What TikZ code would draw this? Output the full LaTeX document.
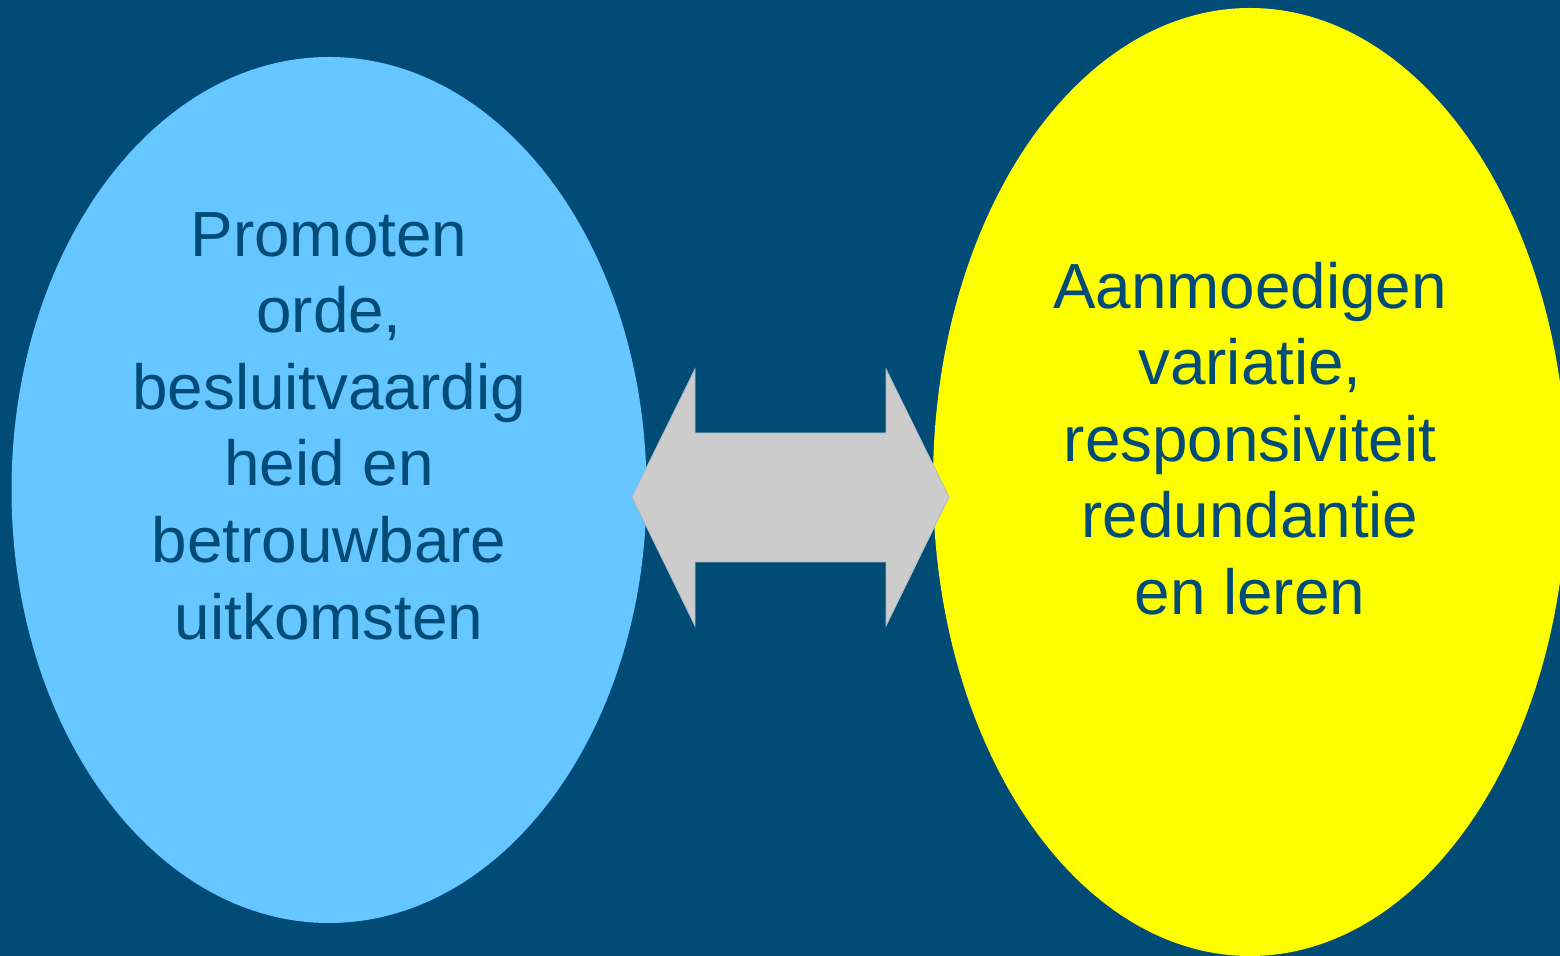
\documentclass[tikz,border=0pt]{standalone}
\usepackage{fontspec}
\setmainfont{Liberation Sans}
\definecolor{bgblue}{RGB}{0,76,119}
\definecolor{lightblue}{RGB}{102,198,255}
\definecolor{ovalyellow}{RGB}{255,255,0}
\definecolor{arrowgray}{RGB}{204,204,204}
\tikzset{every picture/.style={line width=0.75pt}}
\tikzset{ovaltext/.style={align=center, inner sep=0pt, text=bgblue, font=\fontsize{31.9}{38.3}\selectfont}}

\begin{document}
\begin{tikzpicture}[x=0.5pt,y=0.5pt,yscale=-1,xscale=1]
%set diagram to 1560 x 956
\useasboundingbox (0,0) rectangle (1560,956);
\fill [bgblue] (0,0) rectangle (1560,956);
\clip (0,0) rectangle (1560,956);

%Shape: Ellipse [left]
\fill [lightblue] (329,490) ellipse [x radius=317.5, y radius=433];
%Shape: Ellipse [right]
\fill [ovalyellow] (1250,482) ellipse [x radius=317, y radius=474];

%Shape: Double Arrow
\draw [draw=arrowgray!85!bgblue, line width=0.4pt, fill=arrowgray] (632,497) -- (695,369) -- (695,433) -- (886,433) -- (886,369) -- (949,497) -- (886,626) -- (886,562) -- (695,562) -- (695,626) -- cycle ;

% Text Node
\node [ovaltext] (promoten) at (329,426) {Promoten\\orde,\\besluitvaardig\\heid en\\betrouwbare\\uitkomsten};
% Text Node
\node [ovaltext] (aanmoedigen) at (1250,438.5) {Aanmoedigen\\variatie,\\responsiviteit\\redundantie\\en leren};

\end{tikzpicture}
\end{document}
